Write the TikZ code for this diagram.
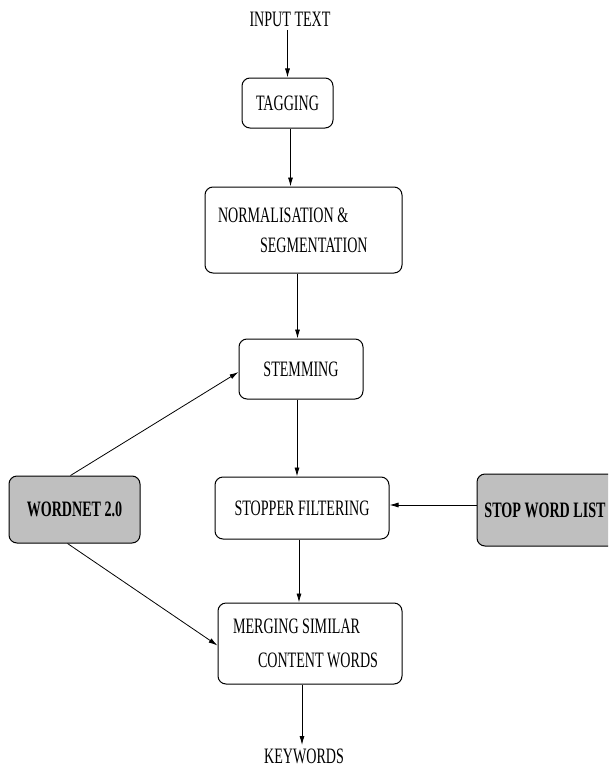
\documentclass[tikz,border=0pt]{standalone}
\usepackage{fontspec}
\setmainfont{Liberation Serif}[FakeStretch=0.64]
\usepackage{xcolor}
\usetikzlibrary{positioning,arrows.meta}

\tikzset{
  procbox/.style={draw, rounded corners=8pt, line width=1pt, inner sep=7pt, align=center},
  srcbox/.style={procbox, fill=black!25, font=\fontsize{22}{30}\selectfont\bfseries},
  arr/.style={-{Latex[length=9pt,width=5pt]}, line width=0.8pt}
}

\begin{document}
\begin{tikzpicture}[x=1pt, y=-1pt, font=\fontsize{22}{30}\selectfont]
\clip (0,0) rectangle (608,768);
\node (intext) at (290,19) {INPUT TEXT};
\node[procbox, minimum width=91pt, minimum height=50pt] (tag) at (287.5,103) {TAGGING};
\node[procbox, minimum width=197pt, minimum height=86pt, text width=183pt, align=flush left] (norm) at (303.5,230)
  {\hspace*{6pt}NORMALISATION \&\\\hspace*{48pt}SEGMENTATION};
\node[procbox, minimum width=124pt, minimum height=60pt] (stem) at (301,369) {STEMMING};
\node[procbox, minimum width=174pt, minimum height=62pt] (stopf) at (302,508) {STOPPER FILTERING};
\node[procbox, minimum width=184pt, minimum height=81pt, text width=170pt, align=flush left] (merge) at (310,643.5)
  {\hspace*{8pt}MERGING SIMILAR\\[4pt]\hspace*{33pt}CONTENT WORDS};
\node (kw) at (304,756) {KEYWORDS};
% resources on both sides, the right one runs off the page
\node[srcbox, minimum width=131pt, minimum height=67pt] (wn) at (74.5,509.5) {WORDNET 2.0};
\node[srcbox, minimum width=160pt, minimum height=72pt] (swl) at (557,510) {STOP WORD LIST\hspace*{24pt}};
% main chain
\draw[arr] (intext.south -| tag.north) -- (tag.north);
\draw[arr] ([xshift=3pt]tag.south) -- ([xshift=3pt]tag.south |- norm.north);
\draw[arr] ([xshift=-6pt]norm.south) -- ([xshift=-6pt]norm.south |- stem.north);
\draw[arr] ([xshift=-4pt]stem.south) -- ([xshift=-4pt]stem.south |- stopf.north);
\draw[arr] ([xshift=-3pt]stopf.south) -- ([xshift=-3pt]stopf.south |- merge.north);
\draw[arr] ([xshift=-8pt]merge.south) -- ([xshift=-8pt]merge.south |- kw.north);
% side inputs
\draw[arr] ([yshift=3pt]stopf.east -| swl.west) -- ([yshift=3pt]stopf.east);
\draw[arr] ([xshift=-4pt]wn.north) -- ([yshift=-3pt]stem.west);
\draw[arr] ([xshift=-7pt]wn.south) -- ([yshift=-2pt]merge.west);
\end{tikzpicture}
\end{document}
